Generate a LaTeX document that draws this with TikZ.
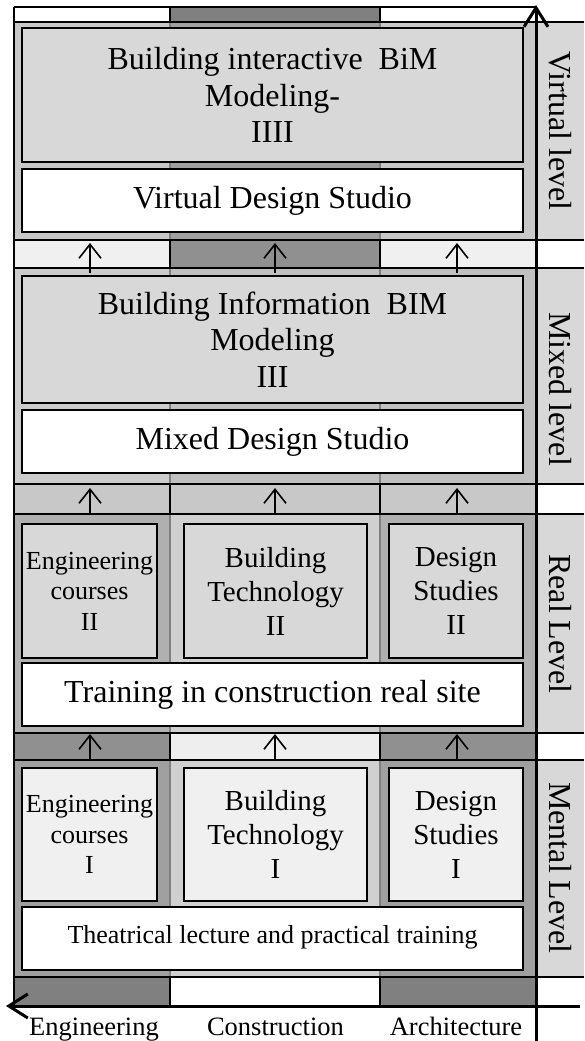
\documentclass[tikz,border=0pt]{standalone}
\usepackage{fontspec}
\setmainfont{Liberation Serif}
\usetikzlibrary{arrows.meta}
\definecolor{cEightyG}{HTML}{808080}
\definecolor{cNinety}{HTML}{909090}
\definecolor{cA0}{HTML}{A0A0A0}
\definecolor{cB0}{HTML}{B0B0B0}
\definecolor{cC0}{HTML}{C0C0C0}
\definecolor{cC8}{HTML}{C8C8C8}
\definecolor{cCC}{HTML}{CCCCCC}
\definecolor{cD0}{HTML}{D0D0D0}
\definecolor{cD8}{HTML}{D8D8D8}
\definecolor{cEE}{HTML}{EEEEEE}
\definecolor{cF0}{HTML}{F0F0F0}
\definecolor{divg}{HTML}{808080}
\newcommand\myrowfill[5]{%
  \fill[#3] (14,#1) rectangle (170,#2);
  \fill[#4] (170,#1) rectangle (380,#2);
  \fill[#5] (380,#1) rectangle (536,#2);}
\begin{document}
\begin{tikzpicture}[x=1pt,y=-1pt,
  box/.style={draw=black,line width=1.8pt,inner sep=0pt,align=center,anchor=center},
  rowline/.style={line width=1.8pt},
  strdiv/.style={line width=1.5pt},
  pandiv/.style={draw=divg,line width=1.5pt},
  upar/.style={line width=1.6pt,-{Straight Barb[length=14pt,width=22pt]}},
  axisln/.style={line width=3pt,-{Straight Barb[length=19pt,width=24pt]}},
  bigtxt/.style={font=\fontsize{32}{36.5}\selectfont},
  midtxt/.style={font=\fontsize{29}{34}\selectfont},
  smalltxt/.style={font=\fontsize{26}{30.5}\selectfont},
  lbl/.style={rotate=-90,font=\fontsize{32}{36}\selectfont,inner sep=0pt},
  axlbl/.style={anchor=base,font=\fontsize{26.5}{30}\selectfont,inner sep=0pt}]
\useasboundingbox (0,0) rectangle (584,1041);
\fill[white] (0,0) rectangle (584,1041);
% column fills per row
\myrowfill{7}{22}{white}{cEightyG}{white}
\myrowfill{22}{240}{cC8}{cA0}{cC8}
\myrowfill{240}{268}{cF0}{cNinety}{cF0}
\myrowfill{268}{484}{cCC}{cC0}{cC0}
\myrowfill{484}{514}{cC8}{cC8}{cC8}
\myrowfill{514}{733}{cB0}{cD0}{cB0}
\myrowfill{733}{760}{cNinety}{cEE}{cNinety}
\myrowfill{760}{977}{cA0}{cD0}{cA0}
\myrowfill{977}{1006}{cEightyG}{white}{cEightyG}
% right label column
\fill[cD8] (536,22) rectangle (584,240);
\fill[cD8] (536,268) rectangle (584,484);
\fill[cD8] (536,514) rectangle (584,733);
\fill[cD8] (536,760) rectangle (584,977);
% column dividers
\foreach \cx in {170,380} {
  \draw[strdiv] (\cx,7) -- (\cx,22);
  \draw[pandiv] (\cx,22) -- (\cx,240);
  \draw[strdiv] (\cx,240) -- (\cx,268);
  \draw[pandiv] (\cx,268) -- (\cx,484);
  \draw[strdiv] (\cx,484) -- (\cx,514);
  \draw[pandiv] (\cx,514) -- (\cx,733);
  \draw[strdiv] (\cx,733) -- (\cx,760);
  \draw[pandiv] (\cx,760) -- (\cx,977);
  \draw[strdiv] (\cx,977) -- (\cx,1006);
}
% row lines
\draw[rowline] (14,7) -- (536,7);
\foreach \ry in {22,240,268,484,514,733,760,977} {
  \draw[rowline] (14,\ry) -- (584,\ry);
}
\draw[rowline] (14,7) -- (14,1006);
% Virtual level
\node[box,fill=cD8,minimum width=501pt,minimum height=134pt,bigtxt] (vbim) at (272.5,95)
  {Building interactive\ \ BiM\\Modeling-\\IIII};
\node[box,fill=white,minimum width=501pt,minimum height=63pt,bigtxt] (vds) at (272.5,200.5)
  {Virtual Design Studio};
% Mixed level
\node[box,fill=cD8,minimum width=501pt,minimum height=127pt,bigtxt] (mbim) at (272.5,339.5)
  {Building Information\ \ BIM\\Modeling\\III};
\node[box,fill=white,minimum width=501pt,minimum height=63pt,bigtxt] (mds) at (272.5,441.5)
  {Mixed Design Studio};
% Real level
\node[box,fill=cD8,minimum width=135pt,minimum height=134pt,smalltxt] (reng) at (89.5,591)
  {Engineering\\courses\\II};
\node[box,fill=cD8,minimum width=183pt,minimum height=134pt,midtxt] (rbt) at (275.5,591)
  {Building\\Technology\\II};
\node[box,fill=cD8,minimum width=134pt,minimum height=134pt,midtxt] (rds) at (456,591)
  {Design\\Studies\\II};
\node[box,fill=white,minimum width=501pt,minimum height=63pt,bigtxt] (rtr) at (272.5,694.5)
  {Training in construction real site};
% Mental level
\node[box,fill=cF0,minimum width=135pt,minimum height=133pt,smalltxt] (meng) at (89.5,834.5)
  {Engineering\\courses\\I};
\node[box,fill=cF0,minimum width=183pt,minimum height=133pt,midtxt] (mbt) at (275.5,834.5)
  {Building\\Technology\\I};
\node[box,fill=cF0,minimum width=134pt,minimum height=133pt,midtxt] (mdsI) at (456,834.5)
  {Design\\Studies\\I};
\node[box,fill=white,minimum width=501pt,minimum height=63pt,font=\fontsize{26}{30}\selectfont,
  text depth=8pt] (mtr) at (272.5,938.5)
  {Theatrical lecture and practical training};
% small upward arrows between levels
\foreach \cx/\nm in {90/a,275/b,457/c} {
  \coordinate (sone\nm b) at (\cx,273); \coordinate (sone\nm t) at (\cx,243);
  \coordinate (stwo\nm b) at (\cx,515); \coordinate (stwo\nm t) at (\cx,488);
  \coordinate (sthr\nm b) at (\cx,759); \coordinate (sthr\nm t) at (\cx,734);
  \draw[upar] (sone\nm b) -- (sone\nm t);
  \draw[upar] (stwo\nm b) -- (stwo\nm t);
  \draw[upar] (sthr\nm b) -- (sthr\nm t);
}
% axes
\coordinate (vbot) at (536,1041);
\coordinate (vtop) at (536,5);
\coordinate (hright) at (580,1006);
\coordinate (hleft) at (6,1006);
\draw[axisln] (hright) -- (hleft);
\draw[axisln] (vbot) -- (vtop);
% level labels
\node[lbl] (lv) at (560,131) {Virtual level};
\node[lbl] (lm) at (560,389) {Mixed level};
\node[lbl] (lr) at (560,624) {Real Level};
\node[lbl] (lme) at (560,868) {Mental Level};
% axis labels
\node[axlbl] (xe) at (94,1035) {Engineering};
\node[axlbl] (xc) at (275.5,1035) {Construction};
\node[axlbl] (xa) at (456,1035) {Architecture};
\end{tikzpicture}
\end{document}
